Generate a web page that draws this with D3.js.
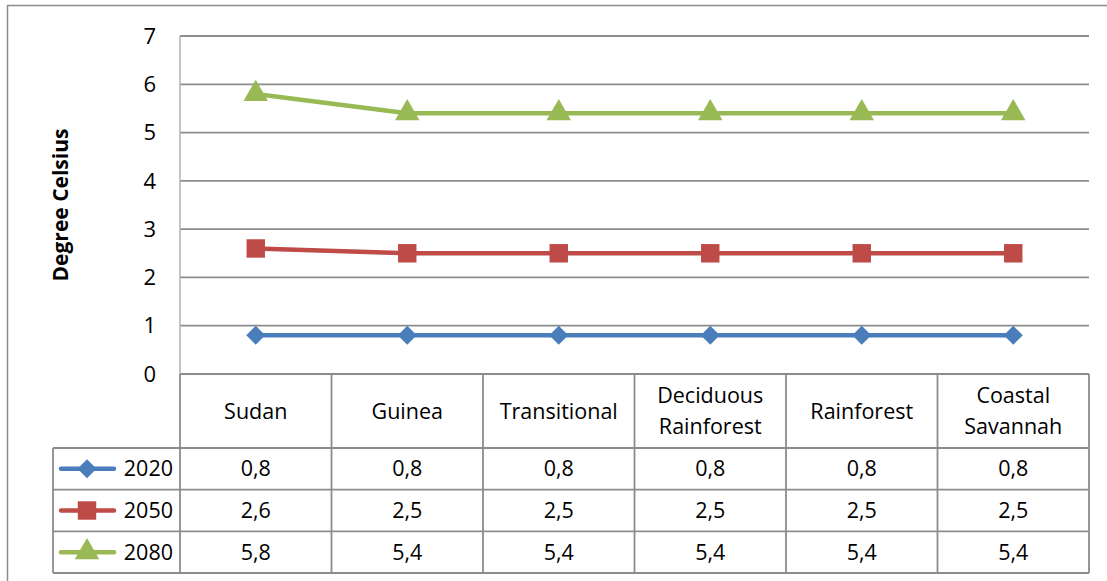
<!DOCTYPE html>
<html>
<head>
<meta charset="utf-8">
<script src="https://cdn.jsdelivr.net/npm/d3@7"></script>
<style>
  html, body { margin: 0; padding: 0; background: #fff; }
  svg { display: block; font-family: "Open Sans", "Noto Sans", sans-serif; }
</style>
</head>
<body>
<svg id="chart" width="1107" height="581"></svg>
<script>
// Projected temperature rise by ecological zone
const zones = ["Sudan", "Guinea", "Transitional", "Deciduous Rainforest", "Rainforest", "Coastal Savannah"];
const zoneLines = [["Sudan"], ["Guinea"], ["Transitional"], ["Deciduous", "Rainforest"], ["Rainforest"], ["Coastal", "Savannah"]];
const years = ["2020", "2050", "2080"];
const values2020 = [0.8, 0.8, 0.8, 0.8, 0.8, 0.8];
const values2050 = [2.6, 2.5, 2.5, 2.5, 2.5, 2.5];
const values2080 = [5.8, 5.4, 5.4, 5.4, 5.4, 5.4];
const yTicks = [0, 1, 2, 3, 4, 5, 6, 7];
const colors = ["#4a7ebb", "#be4b48", "#98b954"];
const symbols = [d3.symbolDiamond2, d3.symbolSquare, d3.symbolTriangle];

const seriesList = [values2020, values2050, values2080].map((vals, i) => ({
  year: years[i], values: vals, color: colors[i], symbol: symbols[i]
}));

const fmt = d3.formatLocale({ decimal: ",", thousands: ".", grouping: [3], currency: ["", ""] }).format(".1f");

const svg = d3.select("#chart");
const grid = "#8c8c8c";
const fontSize = 21.5;

// frame
svg.append("rect").attr("x", 7.5).attr("y", 5.5).attr("width", 1120).attr("height", 600)
  .attr("fill", "none").attr("stroke", "#8c8c8c").attr("stroke-width", 1.5);

const plotL = 180, plotR = 1089, plotT = 36, plotB = 374;
const x = d3.scaleBand().domain(zones).range([plotL, plotR]);
const y = d3.scaleLinear().domain([0, 7]).range([plotB, plotT]);

// horizontal gridlines
svg.append("g").selectAll("line").data(yTicks).join("line")
  .attr("x1", plotL).attr("x2", plotR)
  .attr("y1", d => y(d)).attr("y2", d => y(d))
  .attr("stroke", grid).attr("stroke-width", 1.8);

// value axis line
svg.append("line").attr("x1", plotL).attr("x2", plotL).attr("y1", plotT).attr("y2", plotB)
  .attr("stroke", "#b0b0b0").attr("stroke-width", 1.5);

// y tick labels
svg.append("g").selectAll("text").data(yTicks).join("text")
  .attr("x", 156).attr("y", d => y(d)).attr("dy", "0.35em")
  .attr("text-anchor", "end").attr("font-size", 22).attr("fill", "#000")
  .text(d => d);

// axis title
svg.append("text")
  .attr("transform", "translate(61,205) rotate(-90)")
  .attr("text-anchor", "middle").attr("dy", "0.35em")
  .attr("font-weight", "bold").attr("font-size", 21).attr("fill", "#000")
  .text("Degree Celsius");

// series lines and markers
const line = d3.line().x((d, i) => x(zones[i]) + x.bandwidth() / 2).y(d => y(d));
const markerSize = [230, 340, 260];
seriesList.forEach((s, si) => {
  svg.append("path").attr("d", line(s.values)).attr("fill", "none")
    .attr("stroke", s.color).attr("stroke-width", 4.5).attr("stroke-linejoin", "round");
  svg.append("g").selectAll("path").data(s.values).join("path")
    .attr("transform", (d, i) => `translate(${x(zones[i]) + x.bandwidth() / 2},${y(d)})`)
    .attr("d", d3.symbol().type(s.symbol).size(markerSize[si]))
    .attr("fill", s.color);
});

// data table
const headB = 448;
const tableL = 53;
const rowsB = 573;
const tbl = svg.append("g").attr("stroke", grid).attr("stroke-width", 1.8);
// column dividers
const colEdges = zones.map(z => x(z)).concat([plotR]);
tbl.selectAll("line.col").data(colEdges).join("line").attr("class", "col")
  .attr("x1", d => d).attr("x2", d => d).attr("y1", plotB).attr("y2", rowsB);
// row separators
const rowEdges = d3.range(years.length + 1).map(i => headB + i * (rowsB - headB) / years.length);
tbl.selectAll("line.row").data(rowEdges).join("line").attr("class", "row")
  .attr("x1", tableL).attr("x2", plotR).attr("y1", d => d).attr("y2", d => d);
tbl.append("line").attr("x1", tableL).attr("x2", tableL).attr("y1", headB).attr("y2", rowsB);

// header labels
const headMid = (plotB + headB) / 2;
zoneLines.forEach((lines, i) => {
  const cx = x(zones[i]) + x.bandwidth() / 2;
  const t = svg.append("text").attr("text-anchor", "middle").attr("font-size", fontSize).attr("fill", "#000");
  lines.forEach((ln, k) => {
    t.append("tspan").attr("x", cx)
      .attr("y", headMid + (k - (lines.length - 1) / 2) * 31)
      .attr("dy", "0.35em").text(ln);
  });
});

// rows: legend key + values
const rowH = (rowsB - headB) / years.length;
seriesList.forEach((s, si) => {
  const cy = headB + rowH * (si + 0.5);
  svg.append("line").attr("x1", 61).attr("x2", 114).attr("y1", cy).attr("y2", cy)
    .attr("stroke", s.color).attr("stroke-width", 4.5).attr("stroke-linecap", "round");
  svg.append("path").attr("transform", `translate(87,${cy})`)
    .attr("d", d3.symbol().type(s.symbol).size(markerSize[si])).attr("fill", s.color);
  svg.append("text").attr("x", 173).attr("y", cy).attr("dy", "0.35em")
    .attr("text-anchor", "end").attr("font-size", fontSize).attr("fill", "#000").text(s.year);
  svg.append("g").selectAll("text").data(s.values).join("text")
    .attr("x", (d, i) => x(zones[i]) + x.bandwidth() / 2).attr("y", cy).attr("dy", "0.35em")
    .attr("text-anchor", "middle").attr("font-size", fontSize).attr("fill", "#000")
    .text(d => fmt(d));
});
</script>
</body>
</html>
